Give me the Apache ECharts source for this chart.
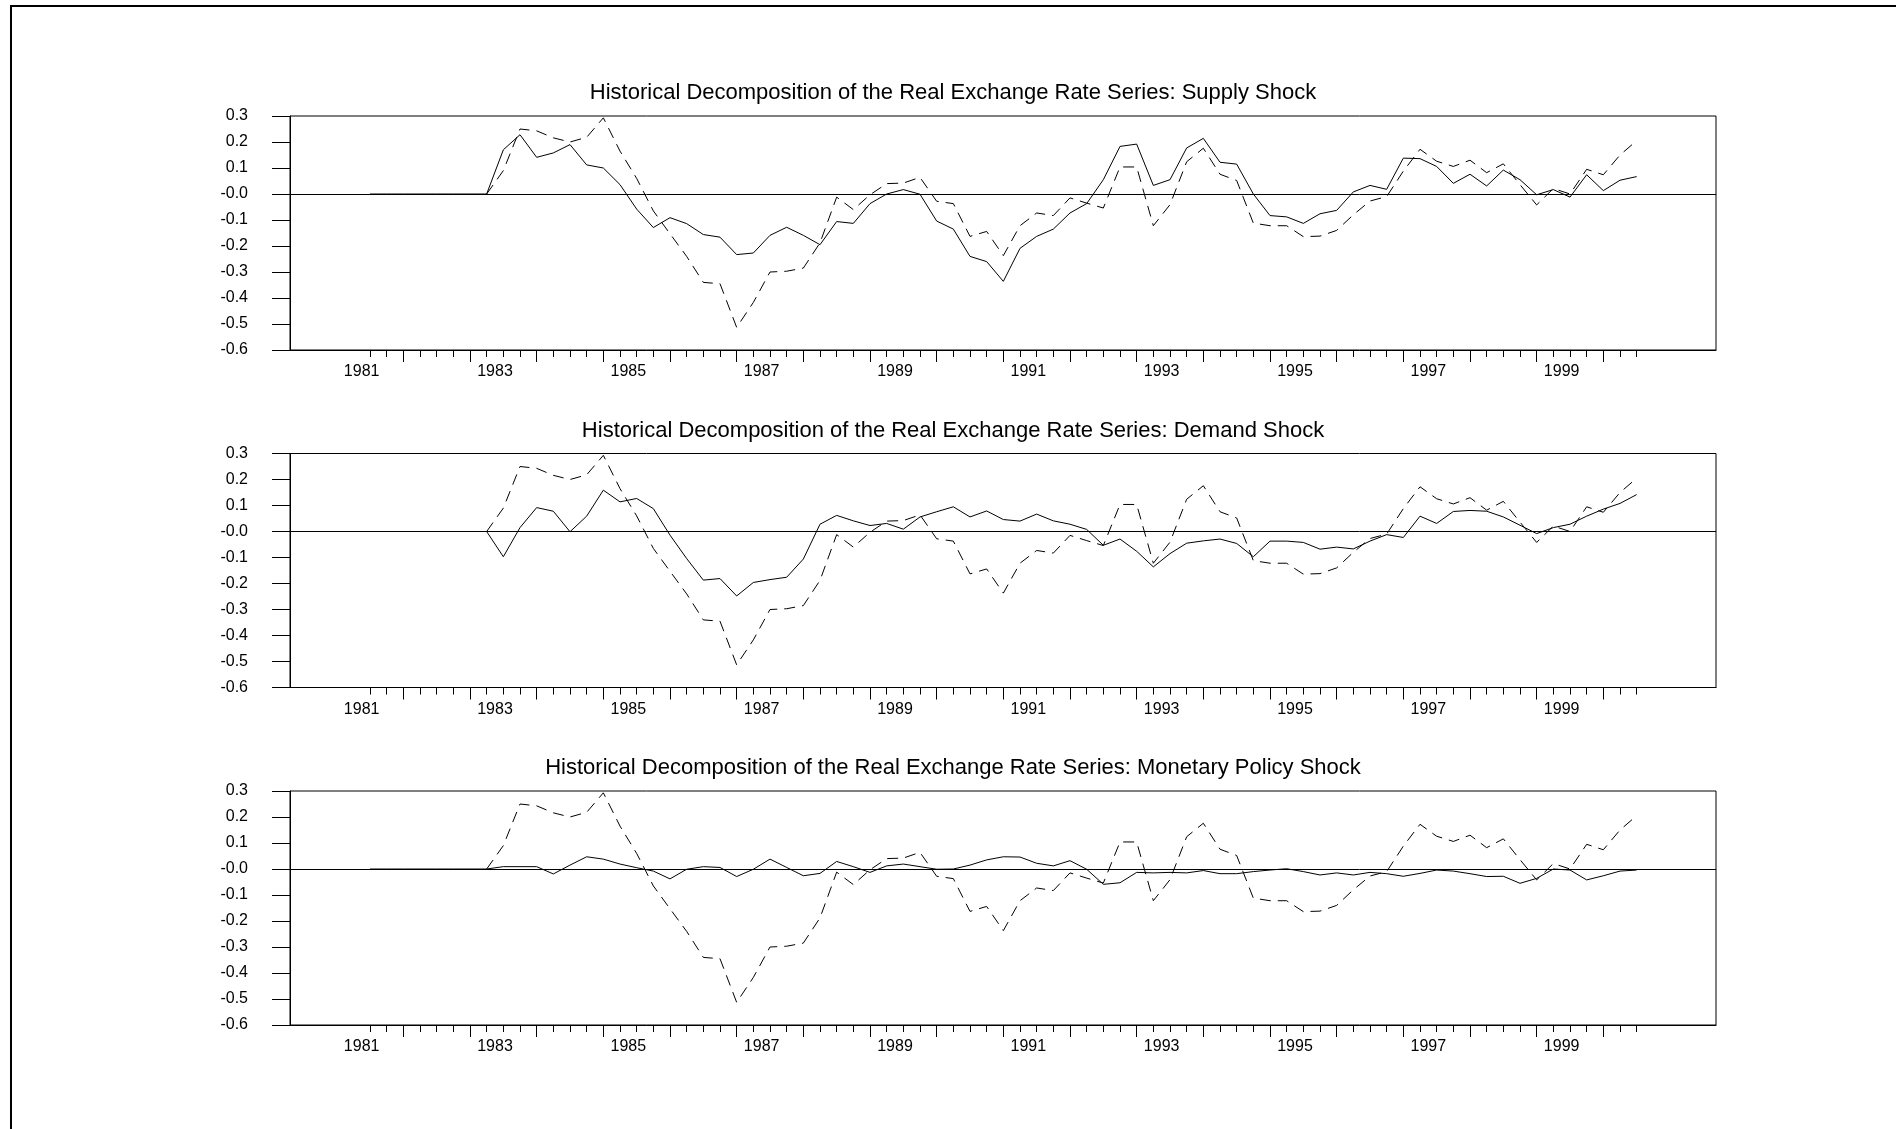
<!DOCTYPE html>
<html>
<head>
<meta charset="utf-8">
<script src="https://cdn.jsdelivr.net/npm/echarts@6/dist/echarts.min.js"></script>
<style>
html,body{margin:0;padding:0;background:#fff;}
#chart{width:1896px;height:1129px;}
</style>
</head>
<body>
<div id="chart"></div>
<script>
// ---- data ----
const startYear = 1981, startQuarter = 3;           // first observation 1981:3
const yearTickLabels = ['1981','1983','1985','1987','1989','1991','1993','1995','1997','1999'];
const panelTitles = [
  'Historical Decomposition of the Real Exchange Rate Series: Supply Shock',
  'Historical Decomposition of the Real Exchange Rate Series: Demand Shock',
  'Historical Decomposition of the Real Exchange Rate Series: Monetary Policy Shock'
];
const yTickValues = [0.3,0.2,0.1,0.0,-0.1,-0.2,-0.3,-0.4,-0.5,-0.6];

// actual (total) movement, dashed line – same in all panels
const totalSeries = [null,null,null,null,null,null,null,
  0, 0.09, 0.25, 0.243, 0.216, 0.20, 0.218, 0.293, 0.165, 0.06, -0.065, -0.153, -0.24, -0.34, -0.345, -0.513,
  -0.417, -0.30, -0.297, -0.285, -0.188, -0.012, -0.06, -0.003, 0.04, 0.042, 0.064, -0.028, -0.037, -0.163,
  -0.144, -0.237, -0.122, -0.073, -0.083, -0.015, -0.035, -0.054, 0.104, 0.104, -0.122, -0.041, 0.124, 0.176,
  0.076, 0.052, -0.112, -0.122, -0.122, -0.164, -0.162, -0.14, -0.08, -0.027, -0.01, 0.088, 0.172, 0.126,
  0.106, 0.13, 0.082, 0.116, 0.036, -0.042, 0.021, 0.0, 0.095, 0.074, 0.15, 0.205];

const supplyShock = [0,0,0,0,0,0,0,
  0, 0.170, 0.228, 0.141, 0.158, 0.190, 0.112, 0.100, 0.036, -0.058, -0.129, -0.091, -0.114, -0.156, -0.166, -0.233,
  -0.227, -0.159, -0.128, -0.159, -0.195, -0.106, -0.113, -0.037, 0.0, 0.017, -0.001, -0.104, -0.135, -0.24,
  -0.26, -0.336, -0.209, -0.163, -0.135, -0.073, -0.037, 0.055, 0.183, 0.192, 0.033, 0.055, 0.177, 0.214,
  0.122, 0.115, 0.0, -0.083, -0.088, -0.113, -0.076, -0.063, 0.008, 0.033, 0.018, 0.138, 0.136, 0.106,
  0.041, 0.076, 0.031, 0.092, 0.055, -0.003, 0.017, -0.012, 0.074, 0.013, 0.053, 0.067];

const demandShock = [0,0,0,0,0,0,0,
  0, -0.097, 0.015, 0.092, 0.078, -0.001, 0.059, 0.159, 0.114, 0.127, 0.088, -0.014, -0.104, -0.187, -0.181, -0.248,
  -0.196, -0.185, -0.176, -0.106, 0.028, 0.062, 0.041, 0.023, 0.031, 0.009, 0.056, 0.076, 0.095, 0.056,
  0.079, 0.046, 0.040, 0.067, 0.041, 0.028, 0.008, -0.053, -0.029, -0.076, -0.136, -0.085, -0.045, -0.036,
  -0.029, -0.046, -0.097, -0.037, -0.037, -0.042, -0.068, -0.060, -0.067, -0.037, -0.012, -0.023, 0.059, 0.031,
  0.077, 0.081, 0.078, 0.056, 0.024, -0.008, 0.015, 0.028, 0.059, 0.086, 0.108, 0.142];

const monetaryShock = [0,0,0,0,0,0,0,
  0, 0.009, 0.009, 0.009, -0.019, 0.015, 0.047, 0.038, 0.019, 0.005, -0.008, -0.038, -0.001, 0.009, 0.006, -0.029,
  -0.001, 0.038, 0.006, -0.026, -0.017, 0.029, 0.009, -0.013, 0.012, 0.019, 0.009, -0.001, 0.0, 0.015,
  0.035, 0.047, 0.046, 0.022, 0.012, 0.032, -0.001, -0.059, -0.053, -0.013, -0.015, -0.013, -0.015, -0.006,
  -0.018, -0.018, -0.010, -0.004, 0.001, -0.010, -0.023, -0.015, -0.023, -0.013, -0.018, -0.028, -0.017, -0.004,
  -0.008, -0.018, -0.029, -0.028, -0.055, -0.036, 0.0, -0.004, -0.042, -0.026, -0.008, -0.004];

const components = [supplyShock, demandShock, monetaryShock];

// ---- build ----
const FONT = '"Liberation Sans", Arial, sans-serif';
const t0 = startYear + (startQuarter - 1) / 4;
const dates = totalSeries.map((_, i) => t0 + i / 4);          // decimal-year time index
const pairs = arr => arr.map((v, i) => [dates[i], v]);
const quarterTicks = dates.slice();
const yearStartTicks = [];
for (let y = Math.ceil(dates[0]); y <= dates[dates.length - 1]; y++) yearStartTicks.push(y);
const labelValues = yearTickLabels.map(y => Number(y) + 0.375);

const xMin = t0 - 4.8 / 4, xMax = t0 + 80.76 / 4;
const gridTops = [116, 453.5, 791];
const gridH = 234, gridLeft = 290, gridW = 1426;

const grids = [], xAxes = [], yAxes = [], series = [], graphics = [];
gridTops.forEach((top, k) => {
  grids.push({left: gridLeft, top: top, width: gridW, height: gridH, show: true,
    borderColor: '#000', borderWidth: 1, backgroundColor: 'transparent'});
  xAxes.push({gridIndex: k, type: 'value', min: xMin, max: xMax, position: 'bottom',
    axisLine: {show: true, onZero: false, lineStyle: {color: '#000', width: 1}},
    axisTick: {show: true, customValues: quarterTicks, length: 7, lineStyle: {color: '#000', width: 1}},
    axisLabel: {show: true, customValues: labelValues, margin: 14, color: '#000', fontSize: 16, fontFamily: FONT,
      formatter: v => String(Math.floor(v + 1e-6))},
    splitLine: {show: false}});
  xAxes.push({gridIndex: k, type: 'value', min: xMin, max: xMax, position: 'bottom',
    axisLine: {show: false, onZero: false},
    axisTick: {show: true, customValues: yearStartTicks, length: 12, lineStyle: {color: '#000', width: 1}},
    axisLabel: {show: false}, splitLine: {show: false}});
  yAxes.push({gridIndex: k, type: 'value', min: -0.6, max: 0.3, position: 'left',
    axisLine: {show: true, onZero: false, lineStyle: {color: '#000', width: 1}},
    axisTick: {show: true, customValues: yTickValues, length: 18, lineStyle: {color: '#000', width: 1}},
    axisLabel: {show: true, customValues: yTickValues, margin: 42, color: '#000', fontSize: 16, fontFamily: FONT,
      formatter: v => { const r = Math.round(v * 10) / 10; return r === 0 ? '-0.0' : r.toFixed(1); }},
    splitLine: {show: false}});
  series.push({type: 'line', xAxisIndex: 2 * k, yAxisIndex: k, data: pairs(components[k]),
    symbol: 'none', silent: true, lineStyle: {color: '#000', width: 1, type: 'solid'},
    markLine: {silent: true, symbol: 'none', label: {show: false},
      lineStyle: {color: '#000', width: 1, type: 'solid'}, data: [{yAxis: 0}]}});
  series.push({type: 'line', xAxisIndex: 2 * k, yAxisIndex: k, data: pairs(totalSeries),
    symbol: 'none', silent: true, connectNulls: false,
    lineStyle: {color: '#000', width: 1, type: [11, 7]}});
  graphics.push({type: 'text', x: 953, y: top - 23,
    style: {text: panelTitles[k], fill: '#000', fontSize: 22, fontFamily: FONT,
      align: 'center', verticalAlign: 'middle'}});
});
graphics.push({type: 'rect', shape: {x: 11, y: 6, width: 2400, height: 2400},
  style: {fill: 'none', stroke: '#000', lineWidth: 2}, z: 100});

const chart = echarts.init(document.getElementById('chart'), null, {renderer: 'canvas'});
chart.setOption({
  backgroundColor: '#fff',
  animation: false,
  grid: grids, xAxis: xAxes, yAxis: yAxes, series: series, graphic: graphics
});
</script>
</body>
</html>
